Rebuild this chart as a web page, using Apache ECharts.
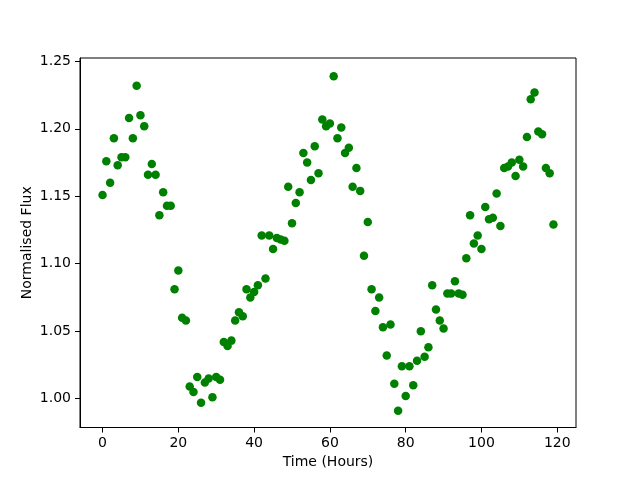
<!DOCTYPE html>
<html>
<head>
<meta charset="utf-8">
<script src="https://cdn.jsdelivr.net/npm/echarts@6/dist/echarts.min.js"></script>
<style>
  html, body { margin: 0; padding: 0; background: #fff; }
  #chart { width: 640px; height: 480px; }
</style>
</head>
<body>
<div id="chart"></div>
<script>
// flux, one value per hour (0..119)
var flux = [
  1.151, 1.176, 1.160, 1.193, 1.173, 1.179, 1.179, 1.208, 1.193, 1.232,
  1.210, 1.202, 1.166, 1.174, 1.166, 1.136, 1.153, 1.143, 1.143, 1.081,
  1.095, 1.060, 1.058, 1.009, 1.005, 1.016, 0.997, 1.012, 1.015, 1.001,
  1.016, 1.014, 1.042, 1.039, 1.043, 1.058, 1.064, 1.061, 1.081, 1.075,
  1.079, 1.084, 1.121, 1.089, 1.121, 1.111, 1.119, 1.118, 1.117, 1.157,
  1.130, 1.145, 1.153, 1.182, 1.175, 1.162, 1.187, 1.167, 1.207, 1.202,
  1.204, 1.239, 1.193, 1.201, 1.182, 1.186, 1.157, 1.171, 1.154, 1.106,
  1.131, 1.081, 1.065, 1.075, 1.053, 1.032, 1.055, 1.011, 0.991, 1.024,
  1.002, 1.024, 1.010, 1.028, 1.050, 1.031, 1.038, 1.084, 1.066, 1.058,
  1.052, 1.078, 1.078, 1.087, 1.078, 1.077, 1.104, 1.136, 1.115, 1.121,
  1.111, 1.142, 1.133, 1.134, 1.152, 1.128, 1.171, 1.172, 1.175, 1.165,
  1.177, 1.172, 1.194, 1.222, 1.227, 1.198, 1.196, 1.171, 1.167, 1.129
];
var hours = flux.map(function (v, i) { return i; });
var xTicks = [0, 20, 40, 60, 80, 100, 120];
var yTicks = [1.00, 1.05, 1.10, 1.15, 1.20, 1.25];

var font = 'DejaVu Sans';
var points = hours.map(function (h, i) { return [h, flux[i]]; });

var myChart = echarts.init(document.getElementById('chart'));
myChart.setOption({
  animation: false,
  backgroundColor: '#fff',
  grid: {
    left: 80, top: 58, width: 496, height: 369.5,
    show: true, borderColor: '#000', borderWidth: 1, backgroundColor: 'transparent'
  },
  xAxis: {
    type: 'value',
    min: -5.95, max: 124.95,
    name: 'Time (Hours)',
    nameLocation: 'middle',
    nameGap: 28,
    nameMoveOverlap: false,
    nameTextStyle: { fontFamily: font, fontSize: 14, color: '#000' },
    axisLine: { show: true, onZero: false, lineStyle: { color: '#000', width: 1 } },
    axisTick: { show: true, inside: false, length: 5, customValues: xTicks, lineStyle: { color: '#000' } },
    axisLabel: {
      customValues: xTicks, margin: 9,
      fontFamily: font, fontSize: 14, color: '#000'
    },
    splitLine: { show: false }
  },
  yAxis: {
    type: 'value',
    min: 0.9786, max: 1.2525,
    name: 'Normalised Flux',
    nameLocation: 'middle',
    nameGap: 46,
    nameMoveOverlap: false,
    nameTextStyle: { fontFamily: font, fontSize: 14, color: '#000' },
    axisLine: { show: true, onZero: false, lineStyle: { color: '#000', width: 1 } },
    axisTick: { show: true, inside: false, length: 5, customValues: yTicks, lineStyle: { color: '#000' } },
    axisLabel: {
      customValues: yTicks, margin: 9,
      fontFamily: font, fontSize: 14, color: '#000',
      formatter: function (v) { return v.toFixed(2); }
    },
    splitLine: { show: false }
  },
  series: [{
    type: 'scatter',
    data: points,
    symbol: 'circle',
    symbolSize: 8.5,
    itemStyle: { color: '#008000', opacity: 1 }
  }]
});
</script>
</body>
</html>
